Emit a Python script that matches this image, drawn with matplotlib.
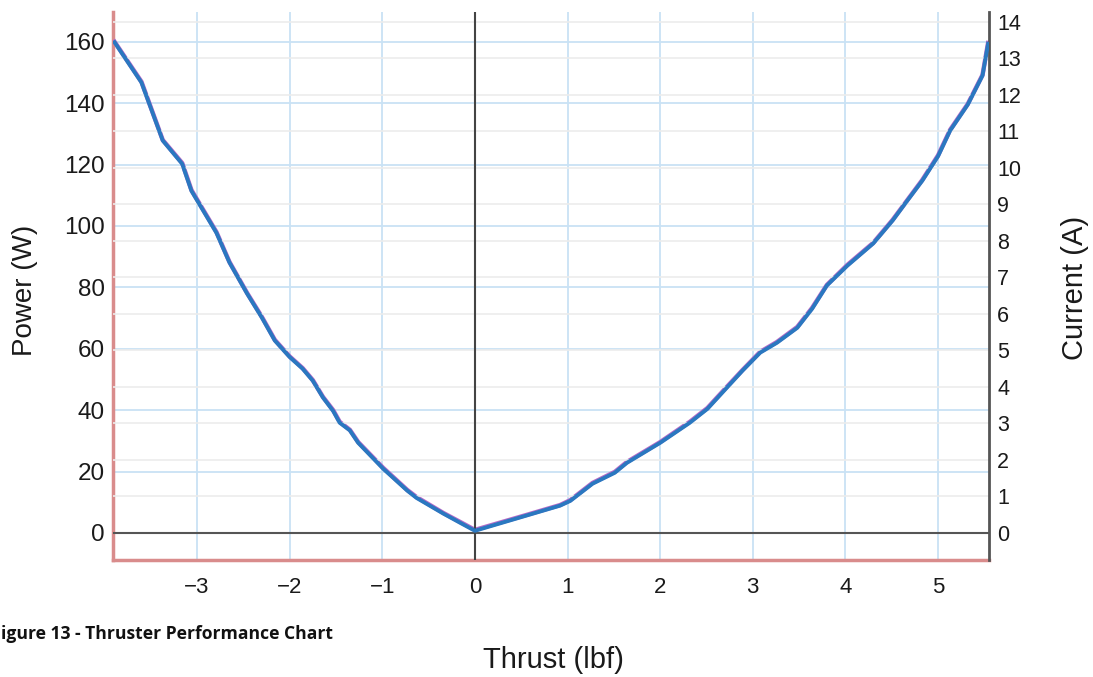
import matplotlib
matplotlib.use("Agg")
import matplotlib.pyplot as plt
import numpy as np

plt.rcParams["font.family"] = ["Liberation Sans", "DejaVu Sans"]

# values
thrust = [-3.89, -3.60, -3.37, -3.16, -3.06, -2.79, -2.65, -2.46, -2.30, -2.16,
          -2.00, -1.86, -1.75, -1.64, -1.53, -1.46, -1.35, -1.26, -0.99, -0.73,
          -0.63, -0.34, -0.16, 0.00, 0.56, 0.92, 1.03, 1.27, 1.51, 1.64,
          2.00, 2.32, 2.51, 2.72, 2.89, 3.08, 3.26, 3.48, 3.64, 3.80,
          4.02, 4.30, 4.51, 4.67, 4.83, 5.00, 5.13, 5.32, 5.48, 5.54]
power = [160, 147, 128, 120.5, 111.7, 98, 88.3, 78.2, 70.4, 62.9,
         57.5, 53.7, 49.8, 44.3, 40, 36.2, 33.6, 29.6, 21.2, 14,
         11.7, 6.5, 3.6, 1, 5.9, 9.1, 10.7, 16.3, 19.9, 23.1,
         29.6, 36.2, 40.7, 47.6, 53.1, 59, 62.2, 67.1, 73.3, 80.8,
         87.3, 94.5, 102, 108.5, 115, 123, 131.3, 139.7, 149.2, 159.6]
current = [13.44, 12.34, 10.75, 10.11, 9.37, 8.22, 7.41, 6.56, 5.90, 5.27,
           4.82, 4.50, 4.17, 3.71, 3.34, 3.02, 2.81, 2.47, 1.76, 1.16,
           0.96, 0.53, 0.28, 0.06, 0.48, 0.75, 0.88, 1.35, 1.65, 1.92,
           2.47, 3.02, 3.40, 3.98, 4.45, 4.94, 5.21, 5.62, 6.14, 6.78,
           7.32, 7.93, 8.56, 9.11, 9.65, 10.32, 11.02, 11.73, 12.53, 13.40]

x_ticks = [-3, -2, -1, 0, 1, 2, 3, 4, 5]
power_ticks = [0, 20, 40, 60, 80, 100, 120, 140, 160]
current_ticks = list(range(0, 15))

W, H = 1093, 677
fig = plt.figure(figsize=(W / 100, H / 100), dpi=100)
ax = fig.add_axes([113 / W, 1 - 560 / H, (989 - 113) / W, (560 - 12) / H])
ax2 = ax.twinx()

# limits
ax.set_xlim(-3.907, 5.55)
ax.set_ylim(-8.8, 169.7)
ax2.set_ylim(-0.74, 14.27)

# grids
ax2.set_yticks(current_ticks)
ax2.grid(axis="y", color="#ececec", lw=1.2)
ax.set_xticks(x_ticks)
ax.set_yticks(power_ticks)
ax.grid(True, color="#c9e2f5", lw=1.3)
ax.set_axisbelow(True)
ax2.set_axisbelow(True)

# zero lines (on the top axes so the faint grid does not cover them)
ax2.axhline(0, color="#555555", lw=1.5, zorder=1)
ax2.axvline(0, color="#444444", lw=1.5, zorder=1)

# curves (power under, current on top)
ax.plot(thrust, power, color="#b46ac8", lw=3.2, zorder=3)
ax2.plot(thrust, current, color="#2a78c0", lw=2.8, zorder=4)

# spines
for a in (ax, ax2):
    a.spines["top"].set_visible(False)
ax.spines["left"].set_color("#d98c8c")
ax.spines["left"].set_linewidth(2.5)
ax.spines["bottom"].set_color("#d98c8c")
ax.spines["bottom"].set_linewidth(2.5)
ax.spines["right"].set_visible(False)
ax2.spines["left"].set_visible(False)
ax2.spines["bottom"].set_visible(False)
ax2.spines["right"].set_color("#555555")
ax2.spines["right"].set_linewidth(2)

ax.tick_params(axis="x", length=0, pad=12, labelsize=16, labelcolor="#1a1a1a")
ax.tick_params(axis="y", length=0, pad=6, labelsize=17.5, labelcolor="#1a1a1a")
ax2.tick_params(axis="y", length=0, pad=6, labelsize=15.5, labelcolor="#1a1a1a")
ax.set_xticklabels(["\u2212%d" % -t if t < 0 else str(t) for t in x_ticks])

# axis titles
fig.text(25 / W, 1 - 290 / H, "Power (W)", rotation=90, ha="center", va="center",
         fontsize=20, color="#1a1a1a")
fig.text(1075 / W, 1 - 288 / H, "Current (A)", rotation=90, ha="center", va="center",
         fontsize=21, color="#1a1a1a")
fig.text(553 / W, 1 - 660 / H, "Thrust (lbf)", ha="center", va="center",
         fontsize=21, color="#1a1a1a")

# caption as it shows in the source (its first letter is cropped away there)
fig.text(1 / W, 1 - 634 / H, "igure 13 - Thruster Performance Chart", ha="left",
         va="center", fontsize=12.6, fontweight="bold", family="Open Sans", color="#111111")

fig.savefig("out.png", dpi=100)
